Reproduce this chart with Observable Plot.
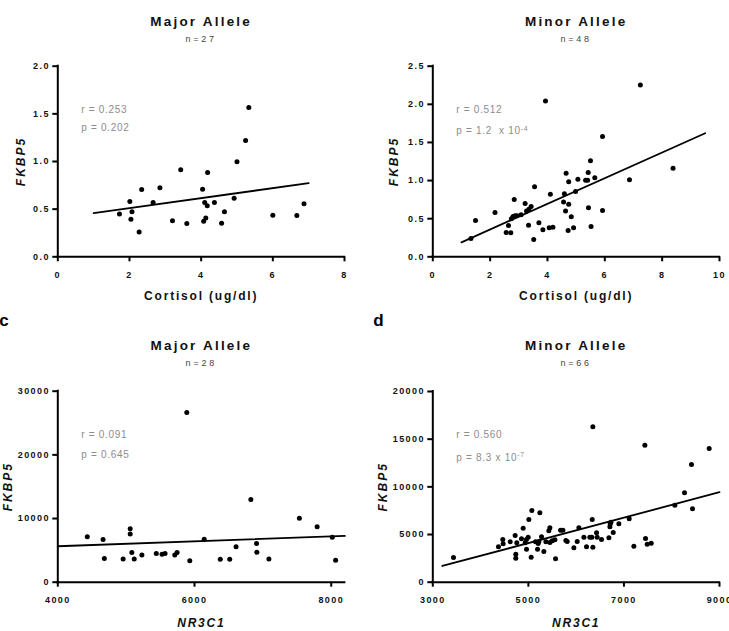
<!DOCTYPE html>
<html>
<head>
<meta charset="utf-8">
<script src="https://cdn.jsdelivr.net/npm/d3@7"></script>
<script src="https://cdn.jsdelivr.net/npm/@observablehq/plot@0.6"></script>
<style>
  html, body { margin: 0; padding: 0; background: #fff; }
  #chart { position: relative; width: 729px; height: 631px; overflow: hidden; background: #fff; }
  #chart svg { position: absolute; overflow: visible; }
</style>
</head>
<body>
<div id="chart"></div>
<script>
// ---- Panel a: cortisol vs FKBP5, major allele carriers (n = 27)
const majorCortisol = [1.72, 2.01, 2.04, 2.07, 2.27, 2.34, 2.66, 2.85, 3.20, 3.43, 3.60, 4.04, 4.07, 4.10, 4.13, 4.17, 4.18, 4.37, 4.57, 4.65, 4.92, 5.00, 5.24, 5.33, 6.00, 6.67, 6.87];
const majorFkbp5Cort = [0.448, 0.58, 0.395, 0.472, 0.259, 0.706, 0.57, 0.724, 0.378, 0.913, 0.35, 0.71, 0.374, 0.57, 0.406, 0.535, 0.885, 0.57, 0.353, 0.472, 0.615, 0.997, 1.22, 1.566, 0.437, 0.434, 0.556];
const majorCortFitX = [1, 7];
const majorCortFitY = [0.458, 0.773];

// ---- Panel b: cortisol vs FKBP5, minor allele carriers (n = 48)
const minorCortisol = [1.33, 1.49, 2.17, 2.56, 2.64, 2.72, 2.74, 2.80, 2.84, 2.87, 2.94, 3.08, 3.22, 3.27, 3.34, 3.35, 3.43, 3.52, 3.55, 3.70, 3.84, 3.93, 4.06, 4.10, 4.19, 4.56, 4.59, 4.63, 4.65, 4.72, 4.74, 4.74, 4.83, 4.91, 4.98, 5.06, 5.33, 5.40, 5.42, 5.43, 5.50, 5.52, 5.65, 5.92, 5.92, 6.86, 7.24, 8.38];
const minorFkbp5Cort = [0.24, 0.476, 0.58, 0.32, 0.41, 0.315, 0.50, 0.53, 0.75, 0.54, 0.54, 0.55, 0.70, 0.60, 0.415, 0.625, 0.66, 0.227, 0.918, 0.446, 0.354, 2.045, 0.38, 0.82, 0.389, 0.72, 0.826, 0.60, 1.097, 0.345, 0.69, 0.983, 0.524, 0.38, 0.857, 1.018, 1.005, 1.005, 1.106, 0.642, 1.259, 0.398, 1.036, 1.578, 0.607, 1.01, 2.255, 1.163];
const minorCortFitX = [1, 9.5];
const minorCortFitY = [0.19, 1.62];

// ---- Panel c: NR3C1 vs FKBP5, major allele carriers (n = 28)
const majorNr3c1 = [4431, 4662, 4681, 4956, 5059, 5059, 5083, 5118, 5230, 5441, 5525, 5569, 5711, 5745, 5887, 5931, 6142, 6377, 6515, 6608, 6824, 6907, 6912, 7088, 7534, 7794, 8015, 8064];
const majorFkbp5Nr = [7120, 6700, 3720, 3660, 8380, 7590, 4660, 3660, 4290, 4500, 4400, 4500, 4290, 4660, 26650, 3350, 6750, 3610, 3610, 5550, 12980, 6070, 4710, 3660, 10050, 8690, 7070, 3460];
const majorNrFitX = [4000, 8200];
const majorNrFitY = [5650, 7270];

// ---- Panel d: NR3C1 vs FKBP5, minor allele carriers (n = 66)
const minorNr3c1 = [3433, 4374, 4465, 4472, 4619, 4723, 4737, 4737, 4758, 4856, 4891, 4933, 4961, 4996, 5010, 5059, 5073, 5150, 5192, 5206, 5220, 5240, 5275, 5324, 5366, 5429, 5450, 5450, 5499, 5555, 5569, 5674, 5723, 5785, 5813, 5952, 6022, 6057, 6162, 6217, 6287, 6336, 6350, 6329, 6350, 6427, 6440, 6531, 6685, 6706, 6713, 6727, 6776, 6894, 7110, 7208, 7438, 7452, 7487, 7571, 8065, 8268, 8414, 8435, 8784, 4960];
const minorFkbp5Nr = [2587, 3706, 4476, 4021, 4231, 4895, 2937, 2517, 4126, 4545, 5664, 4126, 3462, 4720, 6573, 2622, 7517, 4231, 3462, 4056, 4266, 7273, 4755, 3217, 4231, 5385, 5699, 4161, 4336, 4441, 2448, 5455, 5455, 4371, 4266, 3601, 4266, 5699, 4720, 3706, 4720, 6573, 3671, 4720, 16294, 5175, 4720, 4476, 4650, 5804, 6119, 6294, 5210, 6119, 6643, 3776, 14371, 4580, 3986, 4091, 8077, 9371, 12343, 7692, 14021, 4480];
const minorNrFitX = [3200, 9000];
const minorNrFitY = [1700, 9440];

// ---- Axis ticks
const cortTicksA = [0, 2, 4, 6, 8];
const cortTicksB = [0, 2, 4, 6, 8, 10];
const fkbpTicksA = [0, 0.5, 1.0, 1.5, 2.0];
const fkbpTicksB = [0, 0.5, 1.0, 1.5, 2.0, 2.5];
const nrTicksC = [4000, 6000, 8000];
const nrTicksD = [3000, 5000, 7000, 9000];
const fkbpTicksC = [0, 10000, 20000, 30000];
const fkbpTicksD = [0, 5000, 10000, 15000, 20000];

const FONT = "'Liberation Sans', Arial, Helvetica, sans-serif";
const TICK_PX = 5;
const chart = document.getElementById("chart");

function panel(o) {
  const [ml, mr, mt, mb] = o.m;
  const [x0, x1] = o.xDomain;
  const [y0, y1] = o.yDomain;
  // outward tick length expressed in data units of each scale
  const tickDy = TICK_PX * (y1 - y0) / (o.height - mt - mb);
  const tickDx = TICK_PX * (x1 - x0) / (o.width - ml - mr);

  const pts = o.x.map((x, i) => ({x, y: o.y[i]}));
  const fit = o.fitX.map((x, i) => ({x, y: o.fitY[i]}));
  const tb = {lineAnchor: "middle"};
  const marks = [
    // axis lines
    Plot.ruleY([y0], {x1: x0, x2: x1, strokeWidth: 2, strokeLinecap: "square"}),
    Plot.ruleX([x0], {y1: y0, y2: y1, strokeWidth: 2, strokeLinecap: "square"}),
    // outward ticks
    Plot.ruleX(o.xTicks, {x: d => d, y1: y0, y2: y0 - tickDy, strokeWidth: 2}),
    Plot.ruleY(o.yTicks, {y: d => d, x1: x0, x2: x0 - tickDx, strokeWidth: 2}),
    // tick labels
    Plot.text(o.xTicks, {...tb, x: d => d, y: y0, dy: 18.3, text: o.xFormat, textAnchor: "middle",
                         fontSize: 9, fontWeight: "bold", fill: "#111", ariaDescription: "tick-label"}),
    Plot.text(o.yTicks, {...tb, x: x0, y: d => d, dx: -8, text: o.yFormat, textAnchor: "end",
                         fontSize: 9, fontWeight: "bold", fill: "#111", ariaDescription: "tick-label"}),
    // fitted regression line and observations
    Plot.line(fit, {x: "x", y: "y", stroke: "black", strokeWidth: 1.8}),
    Plot.dot(pts, {x: "x", y: "y", r: 2.5, fill: "black"}),
    // headings and annotations
    Plot.text([o.title], {...tb, text: d => d, frameAnchor: "top", dy: o.titleDy, textAnchor: "middle",
                          fontSize: 13.5, fontWeight: "bold", fill: "#111", ariaDescription: "panel-title"}),
    Plot.text([o.n], {...tb, text: d => d, frameAnchor: "top", dy: o.titleDy + 18, textAnchor: "middle",
                      fontSize: 9, fill: "#444", ariaDescription: "panel-n"}),
    Plot.text([o.r], {...tb, text: d => d, frameAnchor: "top-left", dx: 23.5, dy: o.rDy, textAnchor: "start",
                      fontSize: 10, fill: "#8c8c8c", ariaDescription: "stat-r"}),
    Plot.text([o.p], {...tb, text: d => d, frameAnchor: "top-left", dx: 23.5, dy: o.pDy, textAnchor: "start",
                      fontSize: 10, fill: "#8c8c8c", ariaDescription: "stat-p"}),
    Plot.text([o.xLabel], {...tb, text: d => d, frameAnchor: "bottom", dy: o.xLabelDy, textAnchor: "middle",
                           fontSize: 12, fontWeight: "bold", fontStyle: o.xItalic ? "italic" : "normal",
                           fill: "#111", ariaDescription: "x-title"}),
    Plot.text(["FKBP5"], {...tb, text: d => d, frameAnchor: "left", dx: o.yLabelDx, rotate: -90, textAnchor: "middle",
                          fontSize: 12, fontWeight: "bold", fontStyle: "italic", fill: "#111", ariaDescription: "y-title"})
  ];
  if (o.tag) {
    marks.push(Plot.text([o.tag], {...tb, text: d => d, frameAnchor: "top-left", dx: o.tagDx, dy: o.tagDy,
                                   textAnchor: "middle", fontSize: 17, fontWeight: "bold", fill: "#000",
                                   ariaDescription: "panel-tag"}));
  }
  const svg = Plot.plot({
    width: o.width,
    height: o.height,
    marginLeft: ml, marginRight: mr, marginTop: mt, marginBottom: mb,
    x: {domain: o.xDomain, axis: null},
    y: {domain: o.yDomain, axis: null},
    marks
  });
  svg.style.left = o.left + "px";
  svg.style.top = o.top + "px";
  svg.style.fontFamily = FONT;
  svg.style.background = "transparent";

  const s = d3.select(svg);
  const spacing = {
    "panel-title": "2.2px", "panel-n": "2.8px", "stat-r": "0.7px", "stat-p": "0.7px",
    "x-title": "1.8px", "y-title": "2px", "tick-label": "1.4px"
  };
  for (const [key, ls] of Object.entries(spacing)) {
    s.selectAll(`g[aria-description="${key}"] text`).attr("letter-spacing", ls);
  }
  if (o.pExp) {
    s.selectAll('g[aria-description="stat-p"] text')
      .append("tspan").attr("dy", "-0.55em").attr("font-size", "7px").text(o.pExp);
  }
  chart.appendChild(svg);
}

const f1 = d3.format(".1f");
const fInt = d3.format("d");

panel({
  left: 0, top: 0, width: 360, height: 310, m: [57.3, 16, 65.7, 53.7],
  x: majorCortisol, y: majorFkbp5Cort, fitX: majorCortFitX, fitY: majorCortFitY,
  xDomain: [0, 8], yDomain: [0, 2], xTicks: cortTicksA, yTicks: fkbpTicksA, xFormat: fInt, yFormat: f1,
  title: "Major Allele", n: "n=27", titleDy: -45, r: "r = 0.253", p: "p = 0.202", rDy: 43.3, pDy: 62,
  xLabel: "Cortisol (ug/dl)", xItalic: false, xLabelDy: 39.7, yLabelDx: -36.8
});

panel({
  left: 360, top: 0, width: 369, height: 310, m: [72.3, 10, 65.7, 53.7],
  x: minorCortisol, y: minorFkbp5Cort, fitX: minorCortFitX, fitY: minorCortFitY,
  xDomain: [0, 10], yDomain: [0, 2.5], xTicks: cortTicksB, yTicks: fkbpTicksB, xFormat: fInt, yFormat: f1,
  title: "Minor Allele", n: "n=48", titleDy: -45, r: "r = 0.512", p: "p = 1.2\u00a0 x 10", pExp: "-4", rDy: 43.3, pDy: 65,
  xLabel: "Cortisol (ug/dl)", xItalic: false, xLabelDy: 39.7, yLabelDx: -39
});

panel({
  left: 0, top: 310, width: 360, height: 321, m: [57.3, 15.6, 80.7, 49.3],
  x: majorNr3c1, y: majorFkbp5Nr, fitX: majorNrFitX, fitY: majorNrFitY,
  xDomain: [4000, 8200], yDomain: [0, 30000], xTicks: nrTicksC, yTicks: fkbpTicksC, xFormat: fInt, yFormat: fInt,
  title: "Major Allele", n: "n=28", titleDy: -45.7, r: "r = 0.091", p: "p = 0.645", rDy: 44, pDy: 63.3,
  xLabel: "NR3C1", xItalic: true, xLabelDy: 41, yLabelDx: -49.8,
  tag: "c", tagDx: -53.8, tagDy: -70.2
});

panel({
  left: 360, top: 310, width: 369, height: 321, m: [72.3, 10, 81, 49.3],
  x: minorNr3c1, y: minorFkbp5Nr, fitX: minorNrFitX, fitY: minorNrFitY,
  xDomain: [3000, 9000], yDomain: [0, 20000], xTicks: nrTicksD, yTicks: fkbpTicksD, xFormat: fInt, yFormat: fInt,
  title: "Minor Allele", n: "n=66", titleDy: -46, r: "r = 0.560", p: "p = 8.3 x 10", pExp: "-7", rDy: 43.7, pDy: 66,
  xLabel: "NR3C1", xItalic: true, xLabelDy: 41, yLabelDx: -49.8,
  tag: "d", tagDx: -54.3, tagDy: -71
});
</script>
</body>
</html>
